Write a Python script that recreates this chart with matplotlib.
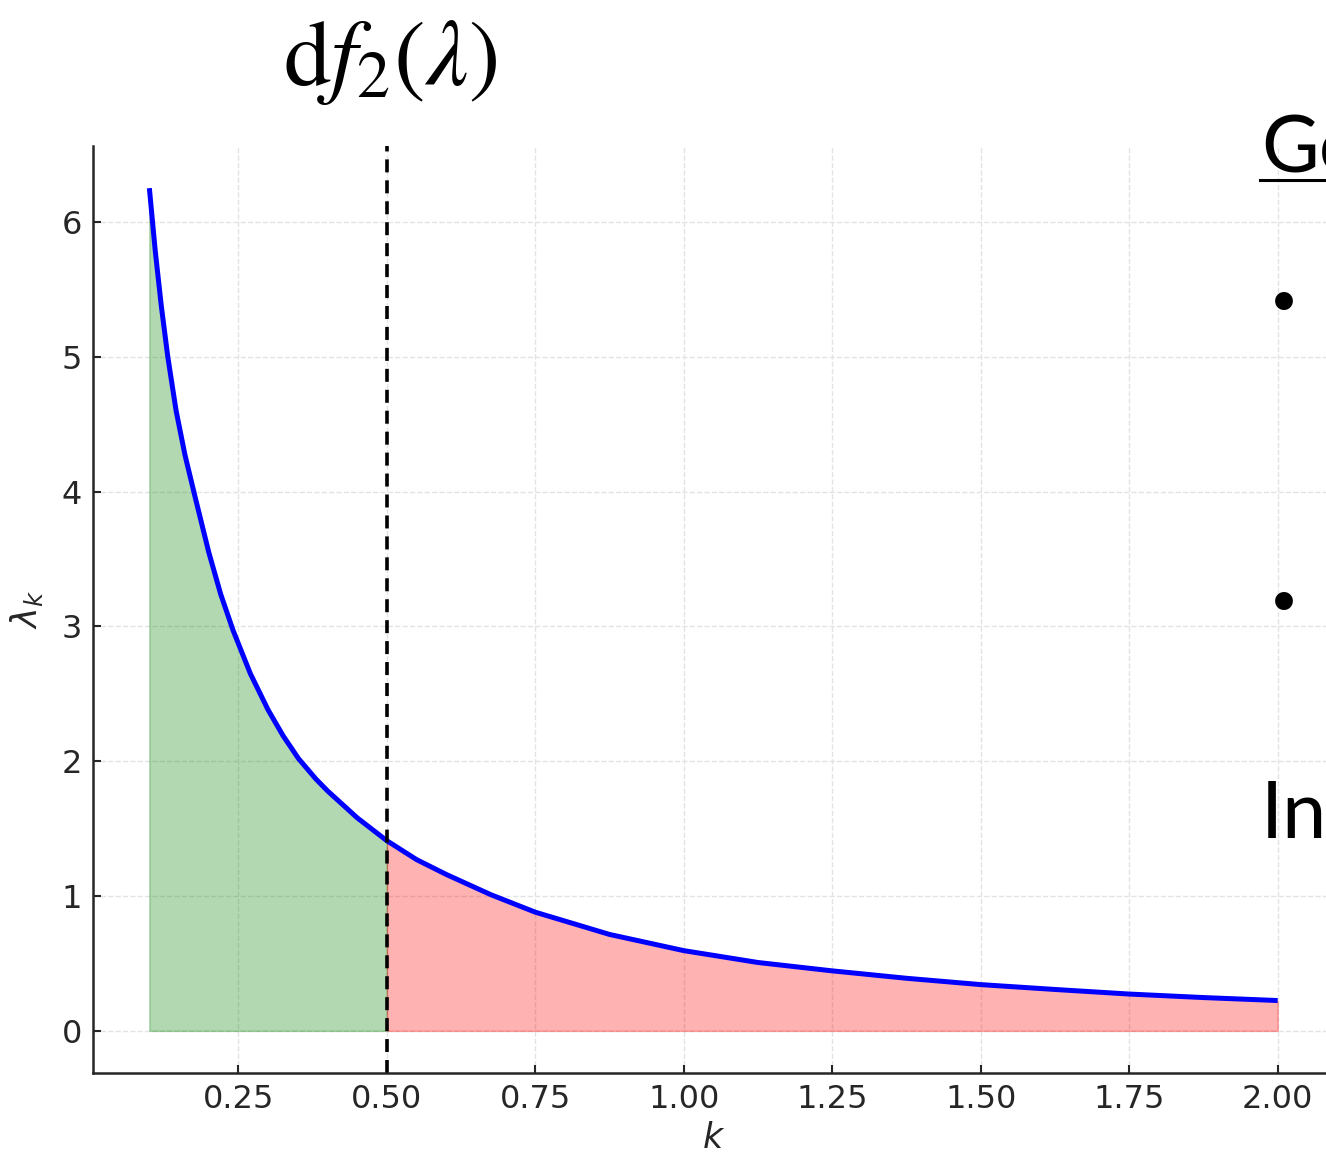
import matplotlib
matplotlib.use("Agg")
import matplotlib.pyplot as plt
import numpy as np

# curve (k, lambda_k)
k_vals = [0.100, 0.110, 0.120, 0.131, 0.145, 0.160, 0.177, 0.200, 0.220, 0.241,
          0.270, 0.300, 0.325, 0.351, 0.380, 0.400, 0.450, 0.500, 0.550, 0.600,
          0.675, 0.750, 0.875, 1.000, 1.125, 1.250, 1.375, 1.500, 1.625, 1.750,
          1.875, 2.000]
lam_vals = [6.25, 5.78, 5.38, 5.00, 4.60, 4.27, 3.96, 3.55, 3.24, 2.97,
            2.65, 2.38, 2.19, 2.02, 1.87, 1.78, 1.58, 1.41, 1.27, 1.16,
            1.01, 0.88, 0.715, 0.595, 0.507, 0.445, 0.390, 0.343, 0.307, 0.273,
            0.247, 0.225]
k_split = 0.5

title_txt = r"$\mathrm{d}f_2(\lambda)$"
side_head = "Go"
side_tail = "In"

k = np.array(k_vals); lam = np.array(lam_vals)

fig = plt.figure(figsize=(13.26, 11.57), dpi=100)
ax = fig.add_axes([0.0701, 0.0726, 0.936, 0.8012])

ax.fill_between(k, 0, lam, where=k <= k_split, color="green", alpha=0.3)
ax.fill_between(k, 0, lam, where=k >= k_split, color="red", alpha=0.3)
ax.plot(k, lam, color="blue", lw=3.6, solid_capstyle="butt", solid_joinstyle="round")
ax.axvline(k_split, color="black", lw=2.6, ls=(0, (3.6, 2.2)))

ax.grid(True, ls="--", color="#e3e3e3", lw=1.0)
ax.set_axisbelow(True)
for s in ("top", "right"):
    ax.spines[s].set_visible(False)
for s in ("left", "bottom"):
    ax.spines[s].set_linewidth(1.8); ax.spines[s].set_color("#262626")
ax.tick_params(direction="in", length=6, width=1.5, labelsize=23, colors="#262626", pad=8)
ax.set_xticks([0.25, 0.50, 0.75, 1.00, 1.25, 1.50, 1.75, 2.00])
ax.set_xlabel(r"$k$", fontsize=25, color="#262626", labelpad=4)
ax.set_ylabel(r"$\lambda_k$", fontsize=25, color="#262626", labelpad=12)

# title and the side panel text that runs off the right edge
plt.rcParams["mathtext.fontset"] = "stix"
fig.text(0.294, 0.9265, title_txt, fontsize=68, ha="center", va="baseline")
plt.rcParams["mathtext.fontset"] = "dejavusans"
fig.text(0.951, 0.851, side_head, fontsize=57, family="Lato", va="baseline")
fig.add_artist(plt.Line2D([0.950, 1.0], [0.844, 0.844], transform=fig.transFigure,
                          color="black", lw=2.2))
for yb in (0.7345, 0.4748):
    fig.text(0.9683, yb, "\u2022", fontsize=44, ha="center", va="center")
fig.text(0.951, 0.2757, side_tail, fontsize=57, family="Lato", va="baseline")

fig.savefig("out.png", dpi=100)
